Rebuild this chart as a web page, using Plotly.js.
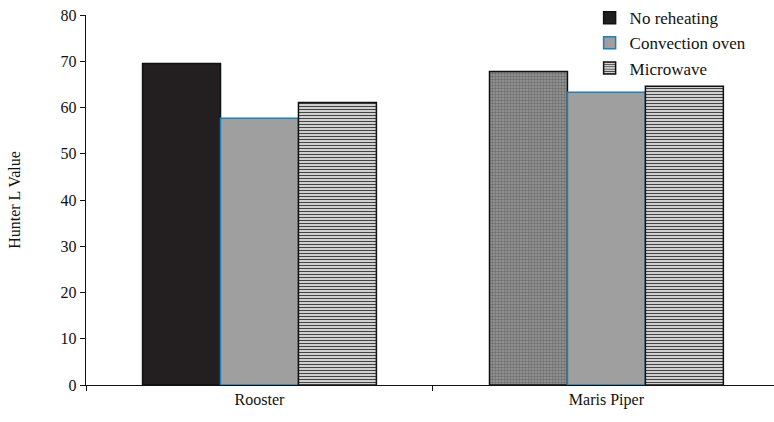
<!DOCTYPE html>
<html>
<head>
<meta charset="utf-8">
<script src="https://cdn.plot.ly/plotly-3.0.1.min.js"></script>
<style>html,body{margin:0;padding:0;background:#fff;}#chart{width:774px;height:422px;}</style>
</head>
<body>
<div id="chart"></div>
<script>
const categories = ["Rooster", "Maris Piper"];
const seriesNames = ["No reheating", "Convection oven", "Microwave"];
const noReheating = [69.5, 67.8];
const convectionOven = [57.7, 63.3];
const microwave = [61.1, 64.6];
const yTicks = [0, 10, 20, 30, 40, 50, 60, 70, 80];

const font = {family: "Liberation Serif, serif", color: "#111"};

const traces = [
  {
    type: "bar", name: seriesNames[0], x: categories, y: noReheating,
    legendgroup: "a",
    marker: {
      color: ["#231f20", "#999999"],
      line: {color: "#111", width: 1.5},
      pattern: {shape: ["", "."], fgcolor: "#222222", bgcolor: "#999999", size: 3, solidity: 0.5, fillmode: "overlay"}
    }
  },
  {
    type: "bar", name: seriesNames[1], x: categories, y: convectionOven,
    legendgroup: "b",
    marker: {color: "#a09fa0", line: {color: "#1f7fb8", width: 1.5}}
  },
  {
    type: "bar", name: seriesNames[2], x: categories, y: microwave,
    legendgroup: "c",
    marker: {
      color: "#ffffff",
      line: {color: "#111", width: 1.5},
      pattern: {shape: "-", fgcolor: "#444", bgcolor: "#ffffff", size: 3, solidity: 0.5}
    }
  }
];

const layout = {
  width: 774, height: 422,
  margin: {l: 86, r: 0, t: 15, b: 37},
  paper_bgcolor: "#fff", plot_bgcolor: "#fff",
  font: Object.assign({size: 16}, font),
  barmode: "group", bargap: 0.326, bargroupgap: 0,
  showlegend: true,
  legend: {
    x: 0.732, xanchor: "left", y: 1.04, yanchor: "top",
    font: Object.assign({size: 17}, font),
    bgcolor: "rgba(0,0,0,0)", traceorder: "grouped", tracegroupgap: 0,
    itemwidth: 30
  },
  xaxis: {
    type: "category", range: [-0.5, 1.483], autorange: false,
    showline: true, linecolor: "#111", linewidth: 1.2,
    ticks: "outside", ticklen: 5, tickcolor: "#111", tickson: "boundaries",
    showgrid: false, zeroline: false,
    tickfont: Object.assign({size: 16}, font)
  },
  yaxis: {
    range: [0, 80], autorange: false,
    tickvals: yTicks, ticktext: yTicks.map(String),
    showline: true, linecolor: "#111", linewidth: 1.2,
    ticks: "outside", ticklen: 5, tickcolor: "#111",
    showgrid: false, zeroline: false,
    tickfont: Object.assign({size: 16}, font),
    title: {text: "Hunter L Value", font: Object.assign({size: 16}, font), standoff: 36},
    automargin: false
  }
};

Plotly.newPlot("chart", traces, layout, {staticPlot: true, displayModeBar: false});
</script>
</body>
</html>
